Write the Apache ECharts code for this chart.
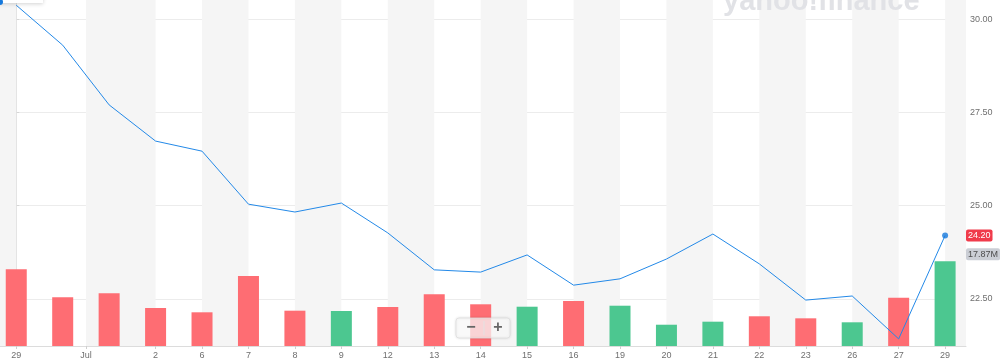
<!DOCTYPE html>
<html>
<head>
<meta charset="utf-8">
<script src="https://cdn.jsdelivr.net/npm/echarts@6/dist/echarts.min.js"></script>
<style>
  html, body { margin: 0; padding: 0; background: #fff; }
  #chart { width: 1000px; height: 362px; }
</style>
</head>
<body>
<div id="chart"></div>
<script>
// Trading days (Jun 29 .. Jul 29)
var dates = ['Jun 29','Jun 30','Jul 1','Jul 2','Jul 6','Jul 7','Jul 8','Jul 9','Jul 12','Jul 13','Jul 14',
             'Jul 15','Jul 16','Jul 19','Jul 20','Jul 21','Jul 22','Jul 23','Jul 26','Jul 27','Jul 29'];
// Closing price
var closes = [30.37, 29.30, 27.70, 26.73, 26.46, 25.04, 24.83, 25.07, 24.27, 23.28, 23.22,
              23.68, 22.87, 23.04, 23.57, 24.24, 23.44, 22.47, 22.58, 21.43, 24.20];
// Volume (millions)
var volumes = [16.18, 10.27, 11.12, 8.02, 7.11, 14.77, 7.45, 7.38, 8.23, 10.91, 8.80,
               8.29, 9.49, 8.50, 4.49, 5.13, 6.27, 5.84, 5.00, 10.19, 17.87];
// Volume bar direction (true = up day, green)
var volumeUp = [false, false, false, false, false, false, false, true, false, false, false,
                true, false, true, true, true, false, false, true, false, true];
// X-axis tick positions (day index) and labels
var xTickVals = [0, 1.5, 3, 4, 5, 6, 7, 8, 9, 10, 11, 12, 13, 14, 15, 16, 17, 18, 19, 20];
var xTickLabels = ['29', 'Jul', '2', '6', '7', '8', '9', '12', '13', '14', '15', '16', '19', '20', '21', '22', '23', '26', '27', '29'];
// Price axis ticks
var yTickVals = [22.5, 25, 27.5, 30];

var X_MIN = -0.35, X_MAX = 20.45;
var Y_MIN = 21.24, Y_MAX = 30.51;
var VOL_MAX = 73;

var RED = '#fe6d73', GREEN = '#4cc790', BLUE = '#2389e8';
var FONT = '"Liberation Sans", Arial, Helvetica, sans-serif';

// alternating background bands between x ticks
var bands = [[{ xAxis: X_MIN }, { xAxis: xTickVals[0] }]];
var edges = xTickVals.concat([X_MAX]);
for (var i = 1; i < edges.length - 1; i += 2) {
  bands.push([{ xAxis: edges[i] }, { xAxis: edges[i + 1] }]);
}

var lineData = closes.map(function (v, i) { return [i, v]; });
var volData = volumes.map(function (v, i) {
  return { value: [i, v], itemStyle: { color: volumeUp[i] ? GREEN : RED } };
});
var lastIdx = closes.length - 1;

var chart = echarts.init(document.getElementById('chart'), null, { renderer: 'canvas' });
chart.setOption({
  animation: false,
  backgroundColor: '#ffffff',
  grid: { left: 0, right: 34, top: 0, bottom: 16, containLabel: false },
  xAxis: {
    type: 'value', min: X_MIN, max: X_MAX,
    axisLine: { show: true, lineStyle: { color: '#dcdcdc', width: 1 } },
    axisTick: { show: true, customValues: xTickVals, length: 3, lineStyle: { color: '#cfcfcf' } },
    axisLabel: {
      customValues: xTickVals, margin: 5, fontSize: 9, color: '#6f6f6f', fontFamily: FONT,
      formatter: function (v) {
        for (var k = 0; k < xTickVals.length; k++) if (Math.abs(xTickVals[k] - v) < 1e-6) return xTickLabels[k];
        return '';
      }
    },
    splitLine: { show: false }
  },
  yAxis: [{
    type: 'value', position: 'right', min: Y_MIN, max: Y_MAX,
    axisLine: { show: true, lineStyle: { color: '#dedede', width: 1 } },
    axisTick: { show: true, customValues: yTickVals, length: 3, lineStyle: { color: '#d6d6d6' } },
    axisLabel: {
      customValues: yTickVals, margin: 4, fontSize: 9, color: '#6f6f6f', fontFamily: FONT,
      formatter: function (v) { return v.toFixed(2); }
    },
    splitLine: { show: true, lineStyle: { color: '#ececec', width: 1 } }
  }, {
    type: 'value', min: 0, max: VOL_MAX, show: false,
    splitLine: { show: false }
  }],
  series: [{
    type: 'line', name: 'bands', data: [], z: 0, silent: true,
    markArea: {
      silent: true,
      itemStyle: { color: '#f5f5f5' },
      data: bands
    }
  }, {
    type: 'bar', name: 'Volume', yAxisIndex: 1, data: volData, barWidth: 21, z: 2,
    markPoint: {
      symbol: 'rect', symbolSize: 0, silent: true,
      label: {
        show: true, position: 'right', distance: 0, offset: [0, -7],
        formatter: function (p) { return p.value.toFixed(2) + 'M'; },
        backgroundColor: '#cbced5', color: '#4c4c4c', fontSize: 9, fontFamily: FONT,
        padding: [2, 2, 1, 2], borderRadius: 2
      },
      data: [{ coord: [X_MAX, volumes[lastIdx]], value: volumes[lastIdx] }]
    }
  }, {
    type: 'line', name: 'Close', data: lineData, z: 3,
    showSymbol: false, symbol: 'none',
    lineStyle: { color: BLUE, width: 1 }
  }, {
    type: 'scatter', name: 'Last', data: [[lastIdx, closes[lastIdx]]], z: 4,
    symbol: 'circle', symbolSize: 6, itemStyle: { color: '#1679dc' },
    markPoint: {
      symbol: 'rect', symbolSize: 0, silent: true,
      label: {
        show: true, position: 'right', distance: 0,
        formatter: function (p) { return p.value.toFixed(2); },
        backgroundColor: '#f03b4b', color: '#ffffff', fontSize: 9, fontFamily: FONT,
        padding: [2, 2, 1, 2], borderRadius: 2
      },
      data: [{ coord: [X_MAX, closes[lastIdx]], value: closes[lastIdx] }]
    }
  }],
  graphic: [{
    type: 'text', left: 723, top: -13, silent: true, z: 5,
    style: { text: 'yahoo!finance', fill: '#e1e2e6', font: 'bold 29px ' + FONT }
  }, {
    type: 'rect', shape: { x: -10, y: -20, width: 53, height: 23 }, silent: true, z: 20,
    style: { fill: '#ffffff', shadowBlur: 4, shadowColor: 'rgba(0,0,0,0.18)', shadowOffsetY: 1 }
  }, {
    type: 'circle', shape: { cx: 0, cy: 2, r: 3 }, silent: true, z: 21,
    style: { fill: '#1679dc' }
  }, {
    type: 'rect', shape: { x: 456, y: 318, width: 54, height: 20, r: 3 }, silent: true, z: 20,
    style: { fill: 'rgba(255,255,255,0.72)', stroke: 'rgba(220,220,220,0.8)', lineWidth: 1,
             shadowBlur: 3, shadowColor: 'rgba(0,0,0,0.12)' }
  }, {
    type: 'line', shape: { x1: 484, y1: 321, x2: 484, y2: 335 }, silent: true, z: 21,
    style: { stroke: '#e2e2e2', lineWidth: 1 }
  }, {
    type: 'text', x: 471, y: 328, silent: true, z: 21,
    style: { text: '\u2212', fill: '#666', font: 'bold 16px ' + FONT, align: 'center', verticalAlign: 'middle' }
  }, {
    type: 'text', x: 498, y: 328, silent: true, z: 21,
    style: { text: '+', fill: '#666', font: 'bold 16px ' + FONT, align: 'center', verticalAlign: 'middle' }
  }]
});
</script>
</body>
</html>
